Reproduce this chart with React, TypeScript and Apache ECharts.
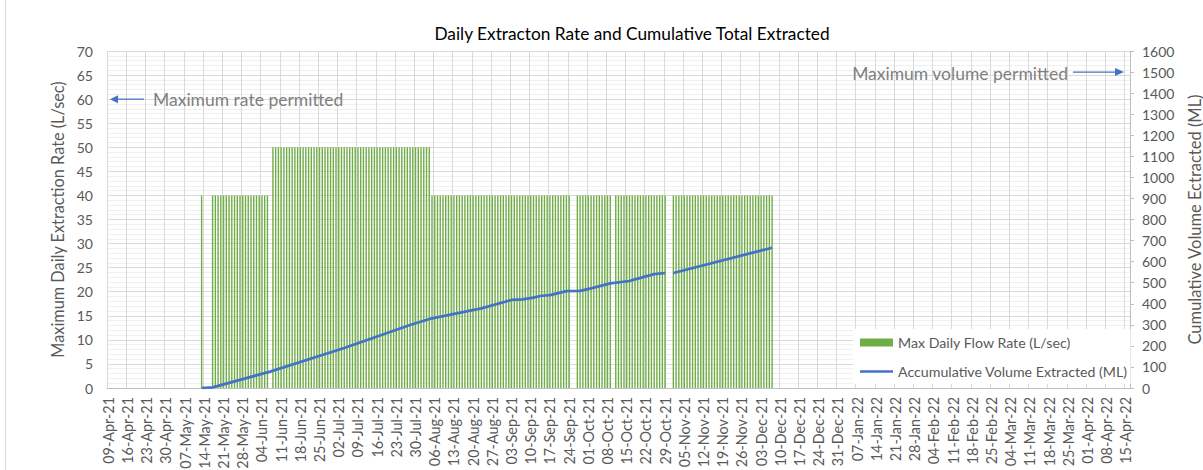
import React, { useEffect, useRef } from "react";
import * as echarts from "echarts";

// ---- Axis / categories ----
const AXIS_START = "2021-04-09";
const AXIS_DAYS = 373;
const MONTHS = ["Jan", "Feb", "Mar", "Apr", "May", "Jun", "Jul", "Aug", "Sep", "Oct", "Nov", "Dec"];

// ---- Max daily flow rate (L/sec): runs of days at a constant rate ----
const runStart = ["2021-05-13", "2021-05-17", "2021-06-08", "2021-08-05", "2021-09-27", "2021-10-11", "2021-11-01"];
const runEnd = ["2021-05-13", "2021-06-06", "2021-08-04", "2021-09-24", "2021-10-09", "2021-10-29", "2021-12-07"];
const runRate = [40, 40, 50, 40, 40, 40, 40];

// ---- Accumulative volume extracted (ML) ----
const volDates = [
  "2021-05-13", "2021-05-17", "2021-06-07", "2021-07-04", "2021-07-28", "2021-08-05",
  "2021-08-23", "2021-09-03", "2021-09-07", "2021-09-11", "2021-09-14", "2021-09-17",
  "2021-09-23", "2021-09-28", "2021-10-02", "2021-10-09", "2021-10-16", "2021-10-18",
  "2021-10-25", "2021-10-29", "2021-10-30", "2021-11-01", "2021-12-07",
];
const volValues = [
  0, 3, 78, 190, 299, 331,
  378, 418, 421, 429, 438, 441,
  460, 461, 473, 497, 508, 516,
  541, 546, null, 546, 666,
];

const SERIES_RATE = "Max Daily Flow Rate (L/sec)";
const SERIES_VOL = "Accumulative Volume Extracted (ML)";
const FONT = "Lato, 'Open Sans', sans-serif";

function isoAt(offset: number): string {
  const d = new Date(AXIS_START + "T00:00:00Z");
  d.setUTCDate(d.getUTCDate() + offset);
  return d.toISOString().slice(0, 10);
}
function fmtDate(iso: string): string {
  const [y, m, d] = iso.split("-");
  return `${d}-${MONTHS[parseInt(m, 10) - 1]}-${y.slice(2)}`;
}

export default function App() {
  const ref = useRef<HTMLDivElement>(null);
  useEffect(() => {
    if (!ref.current) return;
    const chart = echarts.init(ref.current, null, { renderer: "svg" });

    const cats: string[] = [];
    for (let i = 0; i < AXIS_DAYS; i++) cats.push(isoAt(i));
    const idx: Record<string, number> = {};
    cats.forEach((c, i) => (idx[c] = i));

    const barData: (number | null)[] = cats.map(() => null);
    runStart.forEach((s, k) => {
      for (let i = idx[s]; i <= idx[runEnd[k]]; i++) barData[i] = runRate[k];
    });
    const volData = volDates.map((d, k) => [d, volValues[k] === null ? "-" : volValues[k]]);

    chart.setOption({
      animation: false,
      textStyle: { fontFamily: FONT },
      grid: { left: 107, right: 73, top: 51, bottom: 82, containLabel: false, outerBoundsMode: "none" },
      legend: {
        orient: "vertical",
        left: 853,
        top: 329,
        backgroundColor: "#ffffff",
        padding: [5, 3, 4, 7],
        itemWidth: 33,
        itemHeight: 8,
        itemGap: 12,
        textStyle: { color: "#595959", fontSize: 14.2, fontFamily: FONT, lineHeight: 17 },
        data: [
          { name: SERIES_RATE, icon: "rect" },
          { name: SERIES_VOL, icon: "path://M0,0 H33 V2.6 H0 Z" },
        ],
      },
      xAxis: {
        type: "category",
        data: cats,
        boundaryGap: true,
        axisLine: { lineStyle: { color: "#bfbfbf" } },
        axisTick: { show: false },
        axisLabel: {
          interval: 6,
          rotate: 90,
          color: "#595959",
          fontSize: 14.4,
          margin: 9,
          formatter: (v: string) => fmtDate(v),
        },
        splitLine: { show: true, interval: 6, lineStyle: { color: "#d9d9d9", width: 1 } },
      },
      yAxis: [
        {
          type: "value",
          min: 0,
          max: 70,
          interval: 5,
          name: "Maximum Daily Extraction Rate (L/sec)",
          nameLocation: "middle",
          nameGap: 35,
          nameRotate: 90,
          nameTextStyle: { color: "#595959", fontSize: 16.3 },
          axisLine: { show: false },
          axisTick: { show: false },
          axisLabel: { color: "#595959", fontSize: 14, margin: 14 },
          splitLine: { lineStyle: { color: "#d9d9d9" } },
          minorTick: { show: false, splitNumber: 5 },
          minorSplitLine: { show: true, lineStyle: { color: "#f0f0f0" } },
        },
        {
          type: "value",
          min: 0,
          max: 1600,
          interval: 100,
          position: "right",
          name: "Cumulative Volume Ectracted (ML)",
          nameLocation: "middle",
          nameGap: 56,
          nameRotate: 90,
          nameTextStyle: { color: "#595959", fontSize: 16.5 },
          axisLine: { show: true, lineStyle: { color: "#bfbfbf" } },
          axisTick: { show: true, length: 4, lineStyle: { color: "#bfbfbf" } },
          axisLabel: { color: "#595959", fontSize: 14, margin: 12, formatter: (v: number) => String(v) },
          splitLine: { show: false },
        },
      ],
      series: [
        {
          name: SERIES_RATE,
          type: "bar",
          data: barData,
          barWidth: 1.4,
          yAxisIndex: 0,
          itemStyle: { color: "#70AD47" },
        },
        {
          name: SERIES_VOL,
          type: "line",
          data: volData,
          yAxisIndex: 1,
          symbol: "none",
          connectNulls: false,
          lineStyle: { color: "#4472C4", width: 2.75 },
          itemStyle: { color: "#4472C4" },
          z: 5,
        },
      ],
    });

    const yRate = chart.convertToPixel({ yAxisIndex: 0 }, 60) as number;
    const yVol = chart.convertToPixel({ yAxisIndex: 1 }, 1500) as number;
    const blue = "#4472C4";
    const grey = "#7f7f7f";

    chart.setOption({
      graphic: [
        { type: "line", shape: { x1: 5.5, y1: 0, x2: 5.5, y2: 470 }, style: { stroke: "#d9d9d9", lineWidth: 1 } },
        {
          type: "text",
          x: 632,
          y: 33,
          style: {
            text: "Daily Extracton Rate and Cumulative Total Extracted",
            fill: "#000000",
            font: `17.3px ${FONT}`,
            align: "center",
            verticalAlign: "middle",
            textAlign: "center",
            textVerticalAlign: "middle",
          },
        },
        // Maximum rate permitted
        { type: "line", shape: { x1: 116, y1: yRate, x2: 144, y2: yRate }, style: { stroke: blue, lineWidth: 1.25 } },
        { type: "polygon", shape: { points: [[110, yRate], [118, yRate - 4], [118, yRate + 4]] }, style: { fill: blue } },
        {
          type: "text",
          x: 153,
          y: yRate,
          style: {
            text: "Maximum rate permitted",
            fill: grey,
            font: `17.5px ${FONT}`,
            align: "left",
            verticalAlign: "middle",
            textAlign: "left",
            textVerticalAlign: "middle",
          },
        },
        // Maximum volume permitted
        { type: "line", shape: { x1: 1073, y1: yVol, x2: 1116, y2: yVol }, style: { stroke: blue, lineWidth: 1.25 } },
        { type: "polygon", shape: { points: [[1124, yVol], [1115, yVol - 4], [1115, yVol + 4]] }, style: { fill: blue } },
        {
          type: "text",
          x: 1068,
          y: yVol + 1,
          style: {
            text: "Maximum volume permitted",
            fill: grey,
            font: `17.5px ${FONT}`,
            align: "right",
            verticalAlign: "middle",
            textAlign: "right",
            textVerticalAlign: "middle",
          },
        },
      ],
    });

    return () => chart.dispose();
  }, []);

  return <div ref={ref} style={{ position: "absolute", left: 0, top: 0, width: 1203, height: 470 }} />;
}
